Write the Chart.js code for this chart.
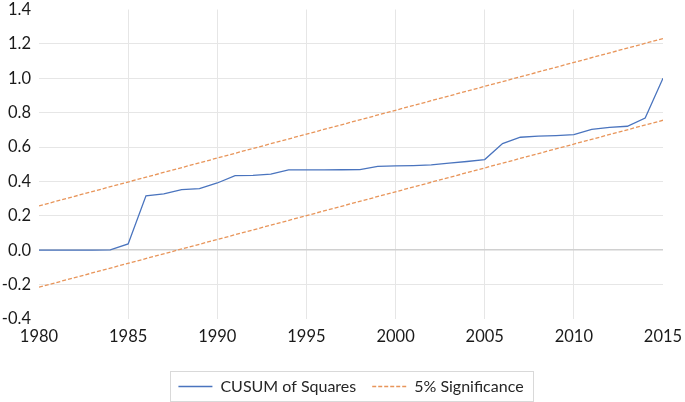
<!DOCTYPE html>
<html lang="en">

<head>
    <meta charset="UTF-8">
    <title>CUSUM of Squares</title>
    <script src="https://cdn.jsdelivr.net/npm/chart.js"></script>
    <style>
        html,
        body {
            margin: 0;
            padding: 0;
            background: #ffffff;
        }

        #wrap {
            width: 685px;
            height: 402px;
        }
    </style>
</head>

<body>
    <div id="wrap"><canvas id="cusumChart"></canvas></div>

    <script>
        // values
        const years = [1980, 1981, 1982, 1983, 1984, 1985, 1986, 1987, 1988, 1989,
            1990, 1991, 1992, 1993, 1994, 1995, 1996, 1997, 1998, 1999,
            2000, 2001, 2002, 2003, 2004, 2005, 2006, 2007, 2008, 2009,
            2010, 2011, 2012, 2013, 2014, 2015];
        const cusumSq = [0.000, 0.000, 0.000, 0.001, 0.002, 0.037, 0.316, 0.328, 0.353, 0.358,
            0.391, 0.434, 0.435, 0.442, 0.467, 0.467, 0.467, 0.468, 0.469, 0.488,
            0.490, 0.492, 0.496, 0.506, 0.516, 0.527, 0.620, 0.657, 0.663, 0.667,
            0.672, 0.703, 0.715, 0.721, 0.769, 1.000];

        // significance bounds are straight lines, so only the end points
        const boundYears = [1980, 2015];
        const upperBound = [0.258, 1.231];
        const lowerBound = [-0.215, 0.756];

        const yTicks = [-0.4, -0.2, 0.0, 0.2, 0.4, 0.6, 0.8, 1.0, 1.2, 1.4];

        function toPoints(xs, ys) {
            return xs.map((x, i) => ({ x: x, y: ys[i] }));
        }

        const FONT = 'Lato';

        // centre the legend under the plot, nudge it down and frame it
        const legendFrame = {
            id: 'legendFrame',
            afterLayout(chart) {
                const lg = chart.legend;
                const shift = (chart.chartArea.left + chart.chartArea.right) / 2 - (lg.left + lg.right) / 2;
                lg.left += shift;
                lg.right += shift;
                lg.top += 2.5;
                lg.bottom += 2.5;
            },
            afterDraw(chart) {
                const boxes = chart.legend.legendHitBoxes;
                if (!boxes || !boxes.length) return;
                let l = Infinity, r = -Infinity, t = Infinity, b = -Infinity;
                boxes.forEach(h => {
                    l = Math.min(l, h.left);
                    r = Math.max(r, h.left + h.width);
                    t = Math.min(t, h.top);
                    b = Math.max(b, h.top + h.height);
                });
                const ctx = chart.ctx;
                ctx.save();
                ctx.strokeStyle = '#d9d9d9';
                ctx.lineWidth = 1;
                const x0 = Math.round(l - 8) + 0.5;
                const y0 = Math.round(t - 7.5) + 0.5;
                ctx.strokeRect(x0, y0, Math.round(r + 9) - x0 + 0.5, Math.round(b + 6.5) - y0 + 0.5);
                ctx.restore();
            }
        };

        const ctx = document.getElementById('cusumChart').getContext('2d');
        const chart = new Chart(ctx, {
            type: 'line',
            data: {
                datasets: [{
                    label: 'CUSUM of Squares',
                    data: toPoints(years, cusumSq),
                    borderColor: '#4a74be',
                    borderWidth: 1.3,
                    pointRadius: 0,
                    fill: false,
                    tension: 0
                }, {
                    label: '5% Significance',
                    data: toPoints(boundYears, upperBound),
                    borderColor: '#e8955a',
                    borderWidth: 1.3,
                    borderDash: [4, 2],
                    pointRadius: 0,
                    fill: false
                }, {
                    label: '5% Significance (lower)',
                    data: toPoints(boundYears, lowerBound),
                    borderColor: '#e8955a',
                    borderWidth: 1.3,
                    borderDash: [4, 2],
                    pointRadius: 0,
                    fill: false
                }]
            },
            options: {
                responsive: true,
                maintainAspectRatio: false,
                animation: false,
                layout: {
                    padding: { top: 9.5, right: 22, left: 0, bottom: 0 }
                },
                plugins: {
                    tooltip: { enabled: false },
                    legend: {
                        position: 'bottom',
                        labels: {
                            usePointStyle: true,
                            pointStyle: 'line',
                            pointStyleWidth: 34,
                            padding: 16,
                            color: '#262626',
                            font: { family: FONT, size: 16 },
                            generateLabels: chart => chart.data.datasets
                                .map((ds, i) => ({
                                    text: ds.label,
                                    datasetIndex: i,
                                    strokeStyle: ds.borderColor,
                                    fillStyle: ds.borderColor,
                                    lineWidth: ds.borderWidth,
                                    lineDash: ds.borderDash || [],
                                    pointStyle: 'line',
                                    fontColor: '#262626'
                                }))
                                .filter(item => item.datasetIndex !== 2)
                        }
                    }
                },
                scales: {
                    x: {
                        type: 'linear',
                        min: 1980,
                        max: 2015,
                        afterFit: scale => {
                            scale.height = 41;
                            scale.paddingLeft = 0;
                            scale.paddingRight = 0;
                        },
                        ticks: {
                            stepSize: 5,
                            padding: 8,
                            color: '#1a1a1a',
                            font: { family: FONT, size: 16.5 },
                            maxRotation: 0,
                            callback: v => String(v)
                        },
                        grid: {
                            drawTicks: false,
                            color: c => (c.tick.value === 1980 || c.tick.value === 2015) ? 'rgba(0,0,0,0)' : '#e6e6e6'
                        },
                        border: { display: false }
                    },
                    y: {
                        min: -0.4,
                        max: 1.4,
                        afterFit: scale => {
                            scale.width = 39;
                            scale.paddingTop = 0;
                            scale.paddingBottom = 0;
                        },
                        afterBuildTicks: scale => {
                            scale.ticks = yTicks.map(v => ({ value: v }));
                        },
                        ticks: {
                            padding: 8,
                            color: '#1a1a1a',
                            font: { family: FONT, size: 16.5 },
                            callback: v => v.toFixed(1)
                        },
                        grid: {
                            drawTicks: false,
                            color: c => {
                                const v = Math.round(c.tick.value * 10) / 10;
                                if (v === -0.4 || v === 1.4) return 'rgba(0,0,0,0)';
                                return v === 0 ? '#d0d0d0' : '#e6e6e6';
                            },
                            lineWidth: c => Math.abs(c.tick.value) < 1e-9 ? 1.6 : 1
                        },
                        border: { display: false }
                    }
                }
            },
            plugins: [legendFrame]
        });
    </script>
</body>

</html>
